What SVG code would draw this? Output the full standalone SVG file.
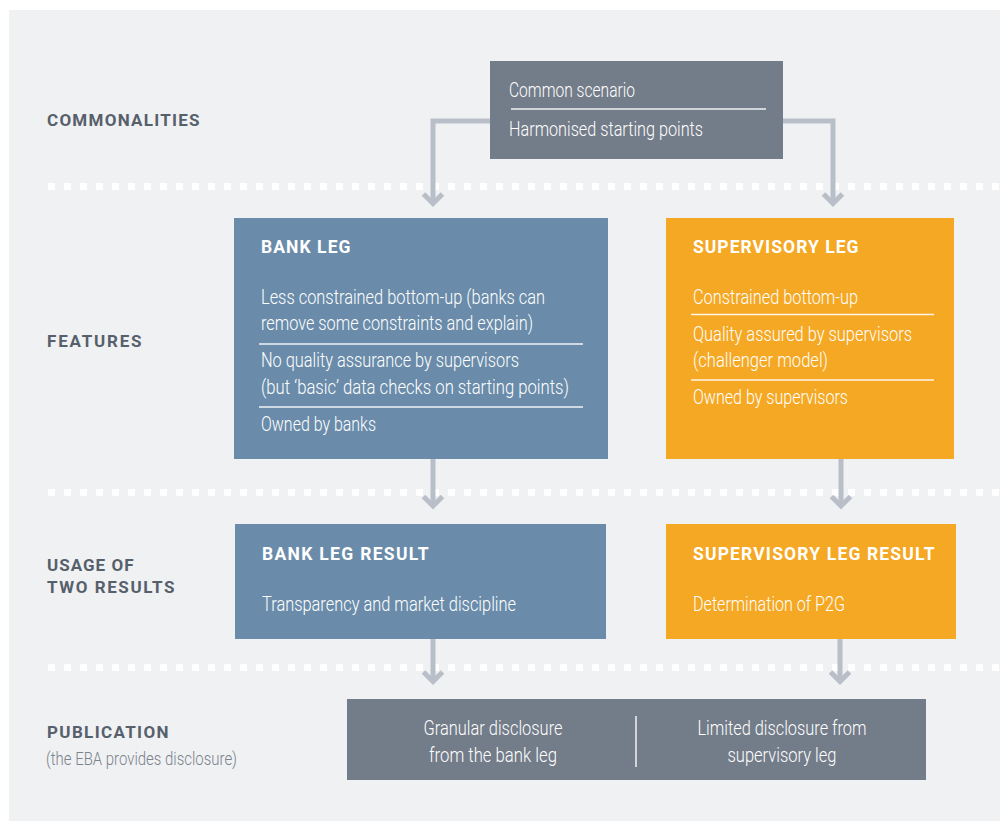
<svg xmlns="http://www.w3.org/2000/svg" width="1000" height="821" viewBox="0 0 1000 821">
<style>
.lane{font-family:Roboto,"Liberation Sans",sans-serif;font-weight:700;font-size:17px;fill:#56606b;letter-spacing:0.5px}
.sub{font-family:Roboto,"Liberation Sans",sans-serif;font-weight:300;font-size:19px;fill:#7a828c}
.hd{font-family:Roboto,"Liberation Sans",sans-serif;font-weight:700;font-size:17.5px;fill:#ffffff;letter-spacing:0.5px}
.bd{font-family:Roboto,"Liberation Sans",sans-serif;font-weight:300;font-size:20.5px;fill:#ffffff}
.sep{stroke:#ffffff;stroke-width:1.5;opacity:0.9}
.dots{stroke:#ffffff;stroke-width:7;stroke-dasharray:7 9;fill:none}
.conn{stroke:#b9bfc9;stroke-width:5;fill:none}
.head{stroke:#b9bfc9;stroke-width:5;fill:none;stroke-linejoin:miter;stroke-miterlimit:4}
</style>
<rect x="9" y="10" width="991" height="811" fill="#f0f1f3"/>

<g id="lanes">
<text class="lane" x="47" y="126" textLength="153" lengthAdjust="spacing">COMMONALITIES</text>
<text class="lane" x="47" y="347" textLength="95" lengthAdjust="spacing">FEATURES</text>
<text class="lane" x="47" y="571" textLength="87" lengthAdjust="spacing">USAGE OF</text>
<text class="lane" x="47" y="593" textLength="128" lengthAdjust="spacing">TWO RESULTS</text>
<text class="lane" x="47" y="738" textLength="122" lengthAdjust="spacing">PUBLICATION</text>
<text class="sub" x="46" y="765" textLength="191" lengthAdjust="spacingAndGlyphs">(the EBA provides disclosure)</text>
</g>

<g id="dividers">
<line class="dots" x1="48" y1="186.5" x2="1000" y2="186.5"/>
<line class="dots" x1="48" y1="492.5" x2="1000" y2="492.5"/>
<line class="dots" x1="48" y1="667.5" x2="1000" y2="667.5"/>
</g>

<g id="connectors">
<path class="conn" d="M490 121 H433 V202"/>
<polyline class="head" points="423.5,194 433,203.5 442.5,194"/>
<path class="conn" d="M783 121 H833 V202"/>
<polyline class="head" points="823.5,194 833,203.5 842.5,194"/>
<path class="conn" d="M433 459 V505"/>
<polyline class="head" points="423.5,496.5 433,506 442.5,496.5"/>
<path class="conn" d="M841 459 V505"/>
<polyline class="head" points="831.5,496.5 841,506 850.5,496.5"/>
<path class="conn" d="M433 638 V681"/>
<polyline class="head" points="423.5,672 433,681.5 442.5,672"/>
<path class="conn" d="M840 638 V681"/>
<polyline class="head" points="830.5,672 840,681.5 849.5,672"/>
</g>

<g id="common">
<rect x="490" y="61" width="293" height="98" fill="#737c89"/>
<text class="bd" x="509" y="97" textLength="126" lengthAdjust="spacingAndGlyphs">Common scenario</text>
<line class="sep" x1="511" y1="109" x2="766" y2="109"/>
<text class="bd" x="509" y="136" textLength="194" lengthAdjust="spacingAndGlyphs">Harmonised starting points</text>
</g>

<g id="bank-leg">
<rect x="234" y="218" width="374" height="241" fill="#6a8caa"/>
<text class="hd" x="261" y="253" textLength="90" lengthAdjust="spacing">BANK LEG</text>
<text class="bd" x="261" y="304" textLength="284" lengthAdjust="spacingAndGlyphs">Less constrained bottom-up (banks can</text>
<text class="bd" x="261" y="330" textLength="272" lengthAdjust="spacingAndGlyphs">remove some constraints and explain)</text>
<line class="sep" x1="259" y1="344" x2="583" y2="344"/>
<text class="bd" x="261" y="367" textLength="258" lengthAdjust="spacingAndGlyphs">No quality assurance by supervisors</text>
<text class="bd" x="261" y="394" textLength="308" lengthAdjust="spacingAndGlyphs">(but ‘basic’ data checks on starting points)</text>
<line class="sep" x1="259" y1="407" x2="583" y2="407"/>
<text class="bd" x="261" y="431" textLength="115" lengthAdjust="spacingAndGlyphs">Owned by banks</text>
</g>

<g id="supervisory-leg">
<rect x="666" y="218" width="288" height="241" fill="#f5a823"/>
<text class="hd" x="693" y="253" textLength="166" lengthAdjust="spacing">SUPERVISORY LEG</text>
<text class="bd" x="693" y="304" textLength="165" lengthAdjust="spacingAndGlyphs">Constrained bottom-up</text>
<line class="sep" x1="691" y1="314.5" x2="934" y2="314.5"/>
<text class="bd" x="693" y="341" textLength="219" lengthAdjust="spacingAndGlyphs">Quality assured by supervisors</text>
<text class="bd" x="693" y="367" textLength="135" lengthAdjust="spacingAndGlyphs">(challenger model)</text>
<line class="sep" x1="691" y1="380" x2="934" y2="380"/>
<text class="bd" x="693" y="404" textLength="155" lengthAdjust="spacingAndGlyphs">Owned by supervisors</text>
</g>

<g id="bank-leg-result">
<rect x="235" y="524" width="371" height="115" fill="#6a8caa"/>
<text class="hd" x="262" y="560" textLength="167" lengthAdjust="spacing">BANK LEG RESULT</text>
<text class="bd" x="262" y="611" textLength="254" lengthAdjust="spacingAndGlyphs">Transparency and market discipline</text>
</g>

<g id="supervisory-leg-result">
<rect x="666" y="524" width="290" height="115" fill="#f5a823"/>
<text class="hd" x="693" y="560" textLength="242" lengthAdjust="spacing">SUPERVISORY LEG RESULT</text>
<text class="bd" x="693" y="611" textLength="152" lengthAdjust="spacingAndGlyphs">Determination of P2G</text>
</g>

<g id="publication">
<rect x="347" y="699" width="579" height="81" fill="#737c89"/>
<line class="sep" x1="636" y1="716" x2="636" y2="767"/>
<text class="bd" x="493" y="735" text-anchor="middle" textLength="139" lengthAdjust="spacingAndGlyphs">Granular disclosure</text>
<text class="bd" x="493" y="762" text-anchor="middle" textLength="128" lengthAdjust="spacingAndGlyphs">from the bank leg</text>
<text class="bd" x="782" y="735" text-anchor="middle" textLength="169" lengthAdjust="spacingAndGlyphs">Limited disclosure from</text>
<text class="bd" x="782" y="762" text-anchor="middle" textLength="109" lengthAdjust="spacingAndGlyphs">supervisory leg</text>
</g>
</svg>
